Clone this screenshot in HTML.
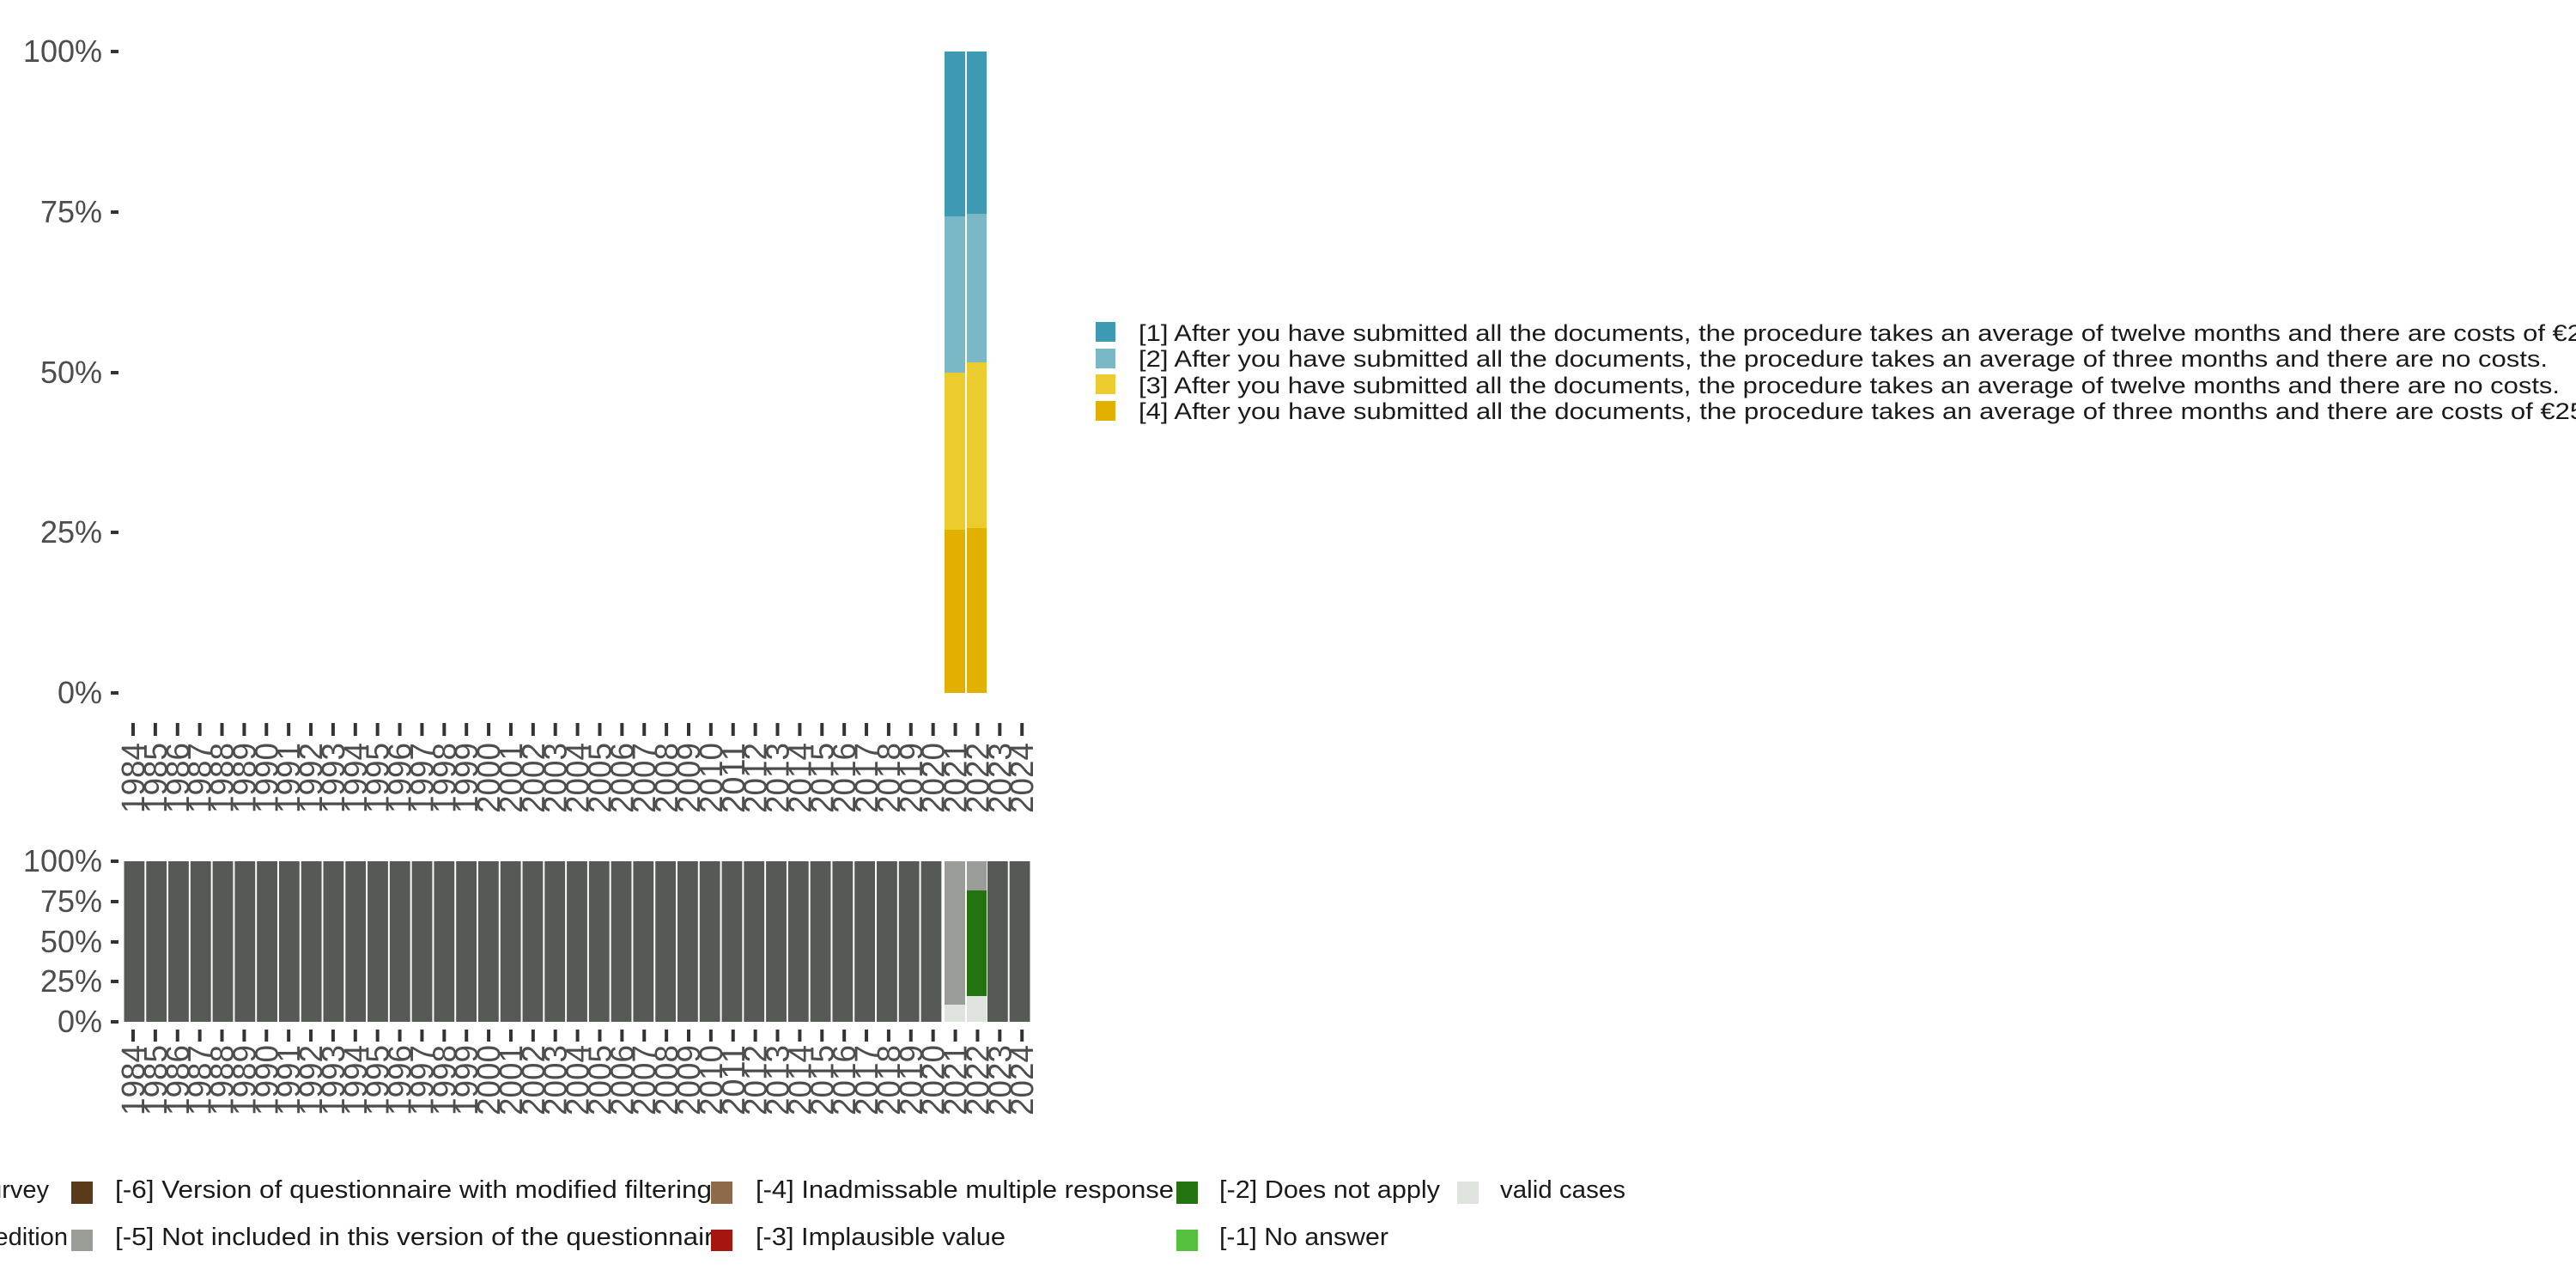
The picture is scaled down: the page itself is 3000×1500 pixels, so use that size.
<!DOCTYPE html>
<html><head><meta charset="utf-8"><style>html,body{margin:0;padding:0;background:#fff}svg{display:block}</style></head><body>
<svg width="3000" height="1500" viewBox="0 0 3000 1500" xmlns="http://www.w3.org/2000/svg" font-family="'Liberation Sans', sans-serif">
<rect width="3000" height="1500" fill="#fff"/>
<g font-size="36" fill="#4d4d4d" text-anchor="end">
<text x="119" y="72">100%</text><text x="119" y="259">75%</text><text x="119" y="446">50%</text><text x="119" y="632">25%</text><text x="119" y="819">0%</text>
</g>
<g fill="#333"><rect x="129" y="58" width="9" height="4"/><rect x="129" y="245" width="9" height="4"/><rect x="129" y="432" width="9" height="4"/><rect x="129" y="618" width="9" height="4"/><rect x="129" y="805" width="9" height="4"/></g>
<rect x="1100" y="60" width="24" height="192" fill="#3d9ab2"/>
<rect x="1100" y="252" width="24" height="182" fill="#7ab8c6"/>
<rect x="1100" y="434" width="24" height="183" fill="#ebcb2e"/>
<rect x="1100" y="617" width="24" height="190" fill="#e1b000"/>
<rect x="1126" y="60" width="23" height="189" fill="#3d9ab2"/>
<rect x="1126" y="249" width="23" height="173" fill="#7ab8c6"/>
<rect x="1126" y="422" width="23" height="193" fill="#ebcb2e"/>
<rect x="1126" y="615" width="23" height="192" fill="#e1b000"/>
<rect x="1276" y="375" width="23" height="23" fill="#3d9ab2"/>
<rect x="1276" y="406" width="23" height="23" fill="#7ab8c6"/>
<rect x="1276" y="436" width="23" height="23" fill="#ebcb2e"/>
<rect x="1276" y="467" width="23" height="23" fill="#e1b000"/>
<g font-size="27" fill="#1a1a1a">
<text x="1326" y="397" textLength="1724" lengthAdjust="spacingAndGlyphs">[1] After you have submitted all the documents, the procedure takes an average of twelve months and there are costs of €250.</text>
<text x="1326" y="427" textLength="1641" lengthAdjust="spacingAndGlyphs">[2] After you have submitted all the documents, the procedure takes an average of three months and there are no costs.</text>
<text x="1326" y="458" textLength="1655" lengthAdjust="spacingAndGlyphs">[3] After you have submitted all the documents, the procedure takes an average of twelve months and there are no costs.</text>
<text x="1326" y="488" textLength="1710" lengthAdjust="spacingAndGlyphs">[4] After you have submitted all the documents, the procedure takes an average of three months and there are costs of €250.</text>
</g>
<g font-size="36" fill="#4d4d4d" text-anchor="end">
<text x="119" y="1015">100%</text><text x="119" y="1062">75%</text><text x="119" y="1109">50%</text><text x="119" y="1155">25%</text><text x="119" y="1202">0%</text>
</g>
<g fill="#333"><rect x="129" y="1001" width="9" height="4"/><rect x="129" y="1048" width="9" height="4"/><rect x="129" y="1095" width="9" height="4"/><rect x="129" y="1141" width="9" height="4"/><rect x="129" y="1188" width="9" height="4"/></g>
<g id="bars"></g>
<g id="ticks"></g>
<g font-size="29" fill="#1a1a1a">
<text x="57" y="1395" text-anchor="end">[-8] Not included in survey</text>
<text x="79" y="1450" text-anchor="end">[-7] Not included in this edition</text>
<rect x="83" y="1376" width="25" height="26" fill="#5a3a1a"/>
<rect x="83" y="1432" width="25" height="25" fill="#999c97"/>
<text x="134" y="1395" textLength="695" lengthAdjust="spacingAndGlyphs">[-6] Version of questionnaire with modified filtering</text>
<text x="134" y="1450" textLength="714" lengthAdjust="spacingAndGlyphs">[-5] Not included in this version of the questionnaire</text>
<rect x="828" y="1376" width="25" height="26" fill="#8d6a4a"/>
<rect x="828" y="1432" width="25" height="25" fill="#a5160e"/>
<text x="880" y="1395" textLength="487" lengthAdjust="spacingAndGlyphs">[-4] Inadmissable multiple response</text>
<text x="880" y="1450" textLength="291" lengthAdjust="spacingAndGlyphs">[-3] Implausible value</text>
<rect x="1370" y="1376" width="25" height="26" fill="#247311"/>
<rect x="1370" y="1432" width="25" height="25" fill="#57bf3e"/>
<text x="1420" y="1395" textLength="257" lengthAdjust="spacingAndGlyphs">[-2] Does not apply</text>
<text x="1420" y="1450" textLength="197" lengthAdjust="spacingAndGlyphs">[-1] No answer</text>
<rect x="1697" y="1376" width="25" height="26" fill="#dfe3de"/>
<text x="1747" y="1395" textLength="146" lengthAdjust="spacingAndGlyphs">valid cases</text>
</g>
<script>
(function(){
var ns="http://www.w3.org/2000/svg";
var bars=document.getElementById("bars"),ticks=document.getElementById("ticks");
function r(p,x,y,w,h,c){var e=document.createElementNS(ns,"rect");e.setAttribute("x",x);e.setAttribute("y",y);e.setAttribute("width",w);e.setAttribute("height",h);e.setAttribute("fill",c);p.appendChild(e);}
for(var i=0;i<41;i++){
 var x=143.5+i*25.78;
 if(i==37){r(bars,1100,1003,24,167,"#999c97");r(bars,1100,1170,24,20,"#dfe3de");}
 else if(i==38){r(bars,1126,1003,23,34,"#999c97");r(bars,1126,1037,23,123,"#247311");r(bars,1126,1160,23,30,"#dfe3de");}
 else r(bars,x+1,1003,23.8,187,"#555a55");
 var tx=155+i*25.88;
 r(ticks,tx-2,842,4,15,"#333");
 r(ticks,tx-2,1199,4,14,"#333");
 [865,1217].forEach(function(yy){
  var t=document.createElementNS(ns,"text");
  t.setAttribute("font-size","38");t.setAttribute("fill","#4d4d4d");t.setAttribute("text-anchor","end");
  t.setAttribute("transform","translate("+(tx+13)+","+yy+") rotate(-90)");
  t.setAttribute("textLength","82");t.setAttribute("lengthAdjust","spacingAndGlyphs");
  t.textContent=String(1984+i);ticks.appendChild(t);
 });
}
})();
</script>
</svg>
</body></html>
